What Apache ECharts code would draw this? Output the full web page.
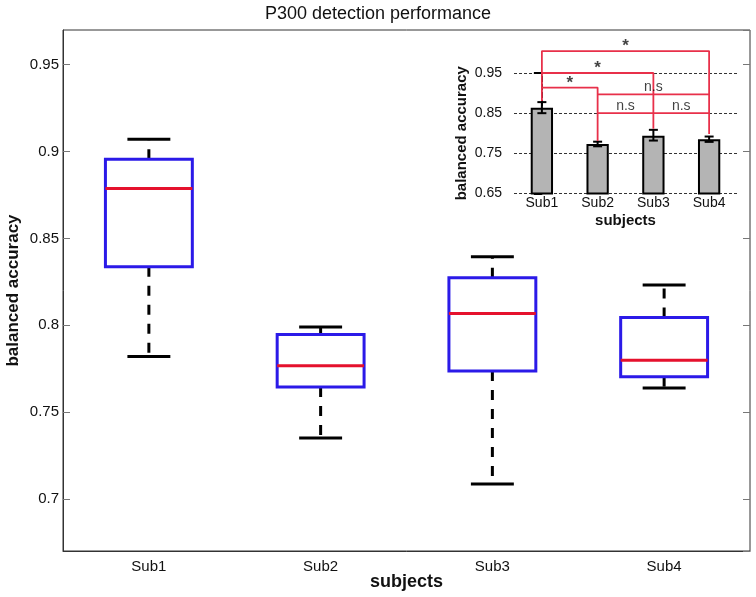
<!DOCTYPE html>
<html><head><meta charset="utf-8">
<script src="https://cdn.jsdelivr.net/npm/echarts@6/dist/echarts.min.js"></script>
<style>html,body{margin:0;padding:0;background:#fff}#c{width:756px;height:597px}</style>
</head><body><div id="c"></div>
<script>
// ---- main box plot data ----
const categories = ['Sub1', 'Sub2', 'Sub3', 'Sub4'];
const whiskerLow  = [0.782, 0.735, 0.7086, 0.7639];
const q1          = [0.8337, 0.7645, 0.7737, 0.7704];
const median      = [0.8787, 0.7766, 0.8067, 0.7799];
const q3          = [0.8956, 0.7947, 0.8274, 0.8044];
const whiskerHigh = [0.9071, 0.799, 0.8395, 0.8232];

// ---- inset bar chart data ----
const insetMeans   = [0.8635, 0.7735, 0.794, 0.785];
const insetErrLow  = [0.85, 0.7675, 0.7818, 0.7785];
const insetErrHigh = [0.8775, 0.779, 0.8085, 0.7918];

// significance brackets (category index, value)
const bracketPaths = [
  [[0, 0.880], [0, 1.0046], [3, 1.0046], [3, 0.798]],
  [[0, 0.95], [2, 0.95], [2, 0.811]],
  [[0, 0.9137], [1, 0.9137], [1, 0.7804]],
  [[1, 0.897], [3, 0.897]],
  [[1, 0.85], [3, 0.85]]
];
const sigLabels = ['*', '*', '*', 'n.s', 'n.s', 'n.s'];
const sigLabelX = [1.5, 1, 0.5, 2, 1.5, 2.5];
const sigLabelY = [1.0046, 0.95, 0.9137, 0.897, 0.85, 0.85];

const FONT = 'Liberation Sans, Arial, Helvetica, sans-serif';
const BLUE = '#2b1ae8';
const RED = '#e5112d';
const SIGRED = '#e8304a';

const boxData = categories.map((c, i) => [i, whiskerLow[i], q1[i], median[i], q3[i], whiskerHigh[i]]);
const errData = categories.map((c, i) => [i, insetErrLow[i], insetErrHigh[i]]);

function renderBox(params, api) {
  const i = api.value(0);
  const bw = api.size([1, 0])[0];
  const hb = bw * 0.253, hc = bw * 0.125;
  const pLow = api.coord([i, api.value(1)]);
  const pQ1 = api.coord([i, api.value(2)]);
  const pMed = api.coord([i, api.value(3)]);
  const pQ3 = api.coord([i, api.value(4)]);
  const pHigh = api.coord([i, api.value(5)]);
  const cx = pLow[0];
  const dash = { stroke: '#000', lineWidth: 3, lineDash: [10, 9], fill: null };
  const solid = { stroke: '#000', lineWidth: 3, fill: null };
  return {
    type: 'group', children: [
      { type: 'line', shape: { x1: cx, y1: pQ3[1], x2: cx, y2: pHigh[1] }, style: dash },
      { type: 'line', shape: { x1: cx, y1: pQ1[1], x2: cx, y2: pLow[1] }, style: dash },
      { type: 'line', shape: { x1: cx - hc, y1: pHigh[1], x2: cx + hc, y2: pHigh[1] }, style: solid },
      { type: 'line', shape: { x1: cx - hc, y1: pLow[1], x2: cx + hc, y2: pLow[1] }, style: solid },
      { type: 'rect', shape: { x: cx - hb, y: pQ3[1], width: 2 * hb, height: pQ1[1] - pQ3[1] }, style: { fill: null, stroke: BLUE, lineWidth: 3 } },
      { type: 'line', shape: { x1: cx - hb, y1: pMed[1], x2: cx + hb, y2: pMed[1] }, style: { stroke: RED, lineWidth: 3 } }
    ]
  };
}

function renderErr(params, api) {
  const i = api.value(0);
  const lo = api.coord([i, api.value(1)]);
  const hi = api.coord([i, api.value(2)]);
  const cx = lo[0], hw = 4.5;
  const st = { stroke: '#000', lineWidth: 2, fill: null };
  return {
    type: 'group', children: [
      { type: 'line', shape: { x1: cx, y1: lo[1], x2: cx, y2: hi[1] }, style: st },
      { type: 'line', shape: { x1: cx - hw, y1: lo[1], x2: cx + hw, y2: lo[1] }, style: st },
      { type: 'line', shape: { x1: cx - hw, y1: hi[1], x2: cx + hw, y2: hi[1] }, style: st }
    ]
  };
}

const bracketSeries = bracketPaths.map(p => ({
  type: 'line', xAxisIndex: 2, yAxisIndex: 2, data: p, symbol: 'none', clip: false,
  lineStyle: { color: SIGRED, width: 1.8 }, silent: true, z: 5
}));

function sigSeries(txt, fontSize, fontWeight, dist) {
  const data = [];
  sigLabels.forEach((l, i) => { if (l === txt) data.push([sigLabelX[i], sigLabelY[i]]); });
  return {
    type: 'scatter', xAxisIndex: 2, yAxisIndex: 2, data: data, symbol: 'circle', symbolSize: 0.01, clip: false, silent: true, z: 6,
    itemStyle: { color: 'transparent' },
    label: { show: true, position: 'top', distance: dist, formatter: () => txt, color: '#111', fontFamily: FONT, fontSize: fontSize, fontWeight: fontWeight }
  };
}

const chart = echarts.init(document.getElementById('c'), null, { renderer: 'canvas' });
chart.setOption({
  animation: false,
  backgroundColor: '#fff',
  title: {
    text: 'P300 detection performance', left: 'center', top: 0,
    textStyle: { fontFamily: FONT, fontSize: 18, fontWeight: 'normal', color: '#111' }
  },
  grid: [
    { left: 63, right: 6, top: 30, bottom: 46, show: true, borderColor: '#333', borderWidth: 1, backgroundColor: 'transparent', outerBoundsMode: 'none', containLabel: false },
    { left: 514, right: 19, top: 73, bottom: 403.5, outerBoundsMode: 'none', containLabel: false }
  ],
  xAxis: [
    {
      type: 'category', gridIndex: 0, data: categories, boundaryGap: true,
      axisLine: { lineStyle: { color: '#333', width: 1 } }, axisTick: { show: false },
      axisLabel: { fontFamily: FONT, fontSize: 15, color: '#111', margin: 8 },
      name: 'subjects', nameLocation: 'middle', nameGap: 22.5, nameMoveOverlap: false,
      nameTextStyle: { fontFamily: FONT, fontSize: 18, fontWeight: 'bold', color: '#111' }
    },
    {
      type: 'category', gridIndex: 1, data: categories, boundaryGap: true,
      axisLine: { show: false }, axisTick: { show: false },
      axisLabel: { fontFamily: FONT, fontSize: 14, color: '#111', margin: 3 },
      name: 'subjects', nameLocation: 'middle', nameGap: 19.5, nameMoveOverlap: false,
      nameTextStyle: { fontFamily: FONT, fontSize: 15, fontWeight: 'bold', color: '#111' }
    },
    {
      type: 'value', gridIndex: 1, min: -0.5, max: 3.5, show: false
    }
  ],
  yAxis: [
    {
      type: 'value', gridIndex: 0, position: 'left', min: 0.67, max: 0.97,
      splitLine: { show: false },
      axisLine: { show: true, lineStyle: { color: '#333', width: 1 } },
      axisTick: { show: true, inside: true, length: 7, lineStyle: { color: '#777' } },
      axisLabel: { fontFamily: FONT, fontSize: 15, color: '#111', margin: 4, showMinLabel: false, showMaxLabel: false },
      name: 'balanced accuracy', nameLocation: 'middle', nameGap: 41.5, nameRotate: 90, nameMoveOverlap: false,
      nameTextStyle: { fontFamily: FONT, fontSize: 17, fontWeight: 'bold', color: '#111' }
    },
    {
      type: 'value', gridIndex: 0, position: 'right', min: 0.67, max: 0.97,
      splitLine: { show: false }, axisLine: { show: false },
      axisTick: { show: true, inside: true, length: 7, lineStyle: { color: '#777' } },
      axisLabel: { show: false }
    },
    {
      type: 'value', gridIndex: 1, min: 0.65, max: 0.95, interval: 0.1,
      splitLine: { show: true, lineStyle: { color: '#333', width: 1, type: [3, 2] } },
      axisLine: { show: true, lineStyle: { color: '#000', width: 2, type: [5, 3] } },
      axisTick: { show: true, inside: false, length: 8, lineStyle: { color: '#000', width: 2 } },
      axisLabel: { fontFamily: FONT, fontSize: 14, color: '#111', margin: 12, formatter: v => v.toFixed(2) },
      name: 'balanced accuracy', nameLocation: 'middle', nameGap: 45, nameRotate: 90, nameMoveOverlap: false,
      nameTextStyle: { fontFamily: FONT, fontSize: 15, fontWeight: 'bold', color: '#111' }
    }
  ],
  series: [
    { type: 'custom', xAxisIndex: 0, yAxisIndex: 0, data: boxData, renderItem: renderBox, clip: false, z: 3 },
    {
      type: 'bar', xAxisIndex: 1, yAxisIndex: 2, data: insetMeans, barWidth: '40%',
      itemStyle: { color: '#b4b4b4', borderColor: '#000', borderWidth: 2 }, z: 3
    },
    { type: 'custom', xAxisIndex: 1, yAxisIndex: 2, data: errData, renderItem: renderErr, clip: false, z: 4 },
    ...bracketSeries,
    sigSeries('*', 17, 'bold', -4),
    sigSeries('n.s', 14, 'normal', 0)
  ]
});
</script>
</body></html>
